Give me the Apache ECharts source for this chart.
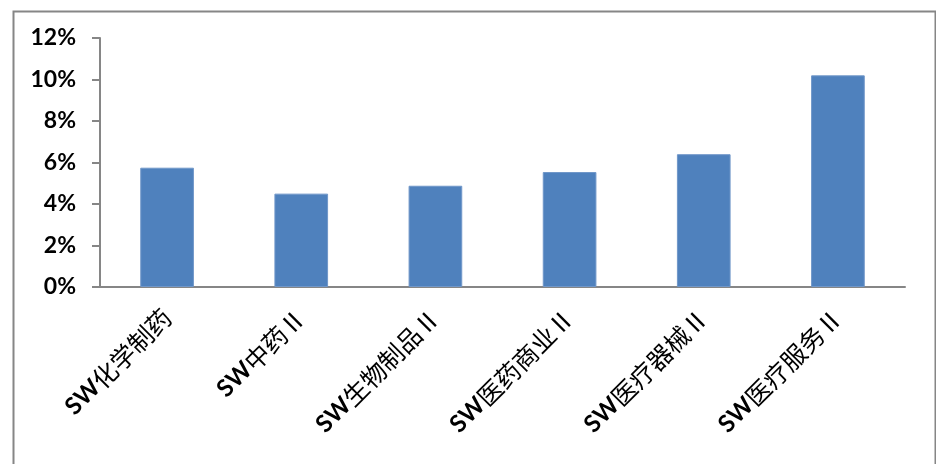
<!DOCTYPE html>
<html><head><meta charset="utf-8">
<script src="https://cdn.jsdelivr.net/npm/echarts@6/dist/echarts.min.js"></script>
<style>html,body{margin:0;padding:0;background:#fff}#c{width:936px;height:464px}</style>
</head><body><div id="c"></div>
<script>
var categories = ['SW化学制药', 'SW中药Ⅱ', 'SW生物制品Ⅱ', 'SW医药商业Ⅱ', 'SW医疗器械Ⅱ', 'SW医疗服务Ⅱ'];
var values = [5.75, 4.50, 4.88, 5.54, 6.40, 10.20];
var yTicks = [0, 2, 4, 6, 8, 10, 12];

var chart = echarts.init(document.getElementById('c'));
chart.setOption({
  animation: false,
  backgroundColor: '#fff',
  graphic: [{
    type: 'rect', left: 11, top: 9,
    shape: {width: 922, height: 470},
    style: {fill: 'none', stroke: '#868686', lineWidth: 2}
  }],
  grid: {left: 100, right: 31, top: 38, bottom: 177},
  xAxis: {
    type: 'category',
    data: categories,
    axisLine: {lineStyle: {color: '#868686', width: 2}},
    axisTick: {length: 8, lineStyle: {color: '#868686', width: 2}},
    axisLabel: {
      rotate: 45, interval: 0, margin: 26,
      formatter: function (v) { return '{a|' + v.slice(0, 2) + '}{b|' + v.slice(2) + '}'; },
      rich: {
        a: {fontFamily: 'Lato', fontWeight: 'bold', fontSize: 24, color: '#000'},
        b: {fontFamily: 'Noto Sans CJK SC', fontWeight: 'normal', fontSize: 25, color: '#000'}
      }
    }
  },
  yAxis: {
    type: 'value', min: yTicks[0], max: yTicks[yTicks.length - 1], interval: 2,
    axisLine: {show: true, lineStyle: {color: '#868686', width: 2}},
    axisTick: {show: true, length: 8, lineStyle: {color: '#868686', width: 2}},
    splitLine: {show: false},
    axisLabel: {
      formatter: function (v) { return v + '%'; },
      margin: 24, fontFamily: 'Lato', fontWeight: 'bold', fontSize: 23, color: '#000'
    }
  },
  series: [{
    type: 'bar',
    data: values,
    barWidth: '40%',
    itemStyle: {color: '#4F81BD', borderColor: '#7097C9', borderWidth: 1}
  }]
});
</script></body></html>
